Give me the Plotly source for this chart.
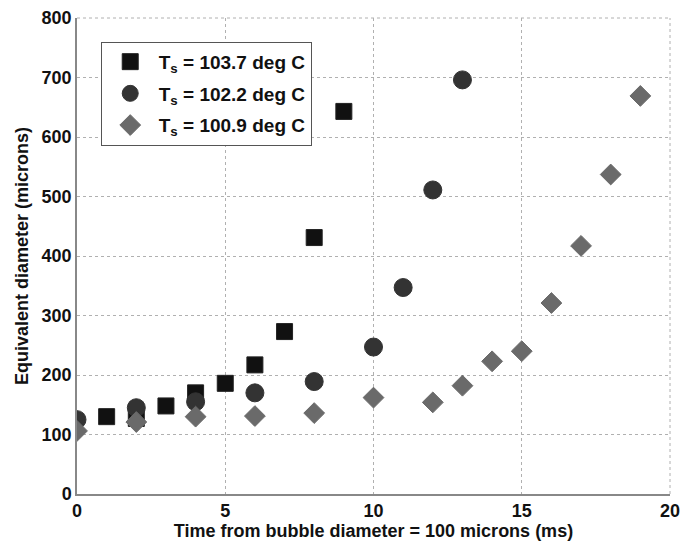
import plotly.graph_objects as go

# Series data
t_sq = [1, 2, 3, 4, 5, 6, 7, 8, 9]
d_sq = [130, 127, 148, 170, 186, 217, 273, 431, 643]

t_ci = [0, 2, 4, 6, 8, 10, 11, 12, 13]
d_ci = [125, 145, 155, 170, 189, 247, 347, 511, 696]

t_di = [0, 2, 4, 6, 8, 10, 12, 13, 14, 15, 16, 17, 18, 19]
d_di = [106, 121, 130, 131, 136, 162, 154, 182, 223, 240, 321, 417, 537, 669]

names = ["T<sub>s</sub> = 103.7 deg C", "T<sub>s</sub> = 102.2 deg C", "T<sub>s</sub> = 100.9 deg C"]

x_ticks = [0, 5, 10, 15, 20]
y_ticks = [0, 100, 200, 300, 400, 500, 600, 700, 800]

FONT = "Liberation Sans, Arial, sans-serif"

fig = go.Figure()
fig.add_trace(go.Scatter(x=t_sq, y=d_sq, mode="markers", name=names[0], legendgroup="a",
                         marker=dict(symbol="square", size=16, color="#111111",
                                     line=dict(width=1, color="#222222"))))
fig.add_trace(go.Scatter(x=t_ci, y=d_ci, mode="markers", name=names[1], legendgroup="b",
                         marker=dict(symbol="circle", size=18, color="#333333",
                                     line=dict(width=1, color="#333333"))))
fig.add_trace(go.Scatter(x=t_di, y=d_di, mode="markers", name=names[2], legendgroup="c",
                         marker=dict(symbol="diamond", size=16, color="#6a6a6a",
                                     line=dict(width=1, color="#6a6a6a"))))

axis_common = dict(
    showgrid=True, gridcolor="#b0b0b0", griddash="dot", gridwidth=1,
    showline=True, linecolor="#888888", linewidth=1.5,
    zeroline=False, ticks="", automargin=False,
    tickfont=dict(family=FONT, size=18, color="#111111", weight="bold"),
)

fig.update_layout(
    width=681, height=544,
    margin=dict(l=77, r=11, t=18, b=50),
    paper_bgcolor="white", plot_bgcolor="white",
    font=dict(family=FONT, color="#111111"),
    xaxis=dict(range=[0, 20], tickvals=x_ticks,
               title=dict(text="<b>Time from bubble diameter = 100 microns (ms)</b>",
                          font=dict(family=FONT, size=18, color="#111111"), standoff=3),
               **axis_common),
    yaxis=dict(range=[0, 800], tickvals=y_ticks,
               title=dict(text="<b>Equivalent diameter (microns)</b>",
                          font=dict(family=FONT, size=18, color="#111111"), standoff=8),
               **axis_common),
    legend=dict(x=0.04, y=0.95, xanchor="left", yanchor="top",
                bgcolor="white", bordercolor="#555555", borderwidth=1,
                font=dict(family=FONT, size=19, color="#111111", weight="bold"),
                itemsizing="trace", itemwidth=47, tracegroupgap=4,
                traceorder="grouped"),
    showlegend=True,
)

# dotted top/right border like the reference's box
fig.add_shape(type="line", xref="paper", yref="paper", x0=0, x1=1, y0=1, y1=1,
              line=dict(color="#b0b0b0", width=1, dash="dot"), layer="below")
fig.add_shape(type="line", xref="paper", yref="paper", x0=1, x1=1, y0=0, y1=1,
              line=dict(color="#b0b0b0", width=1, dash="dot"), layer="below")

fig.write_html("out.html")
